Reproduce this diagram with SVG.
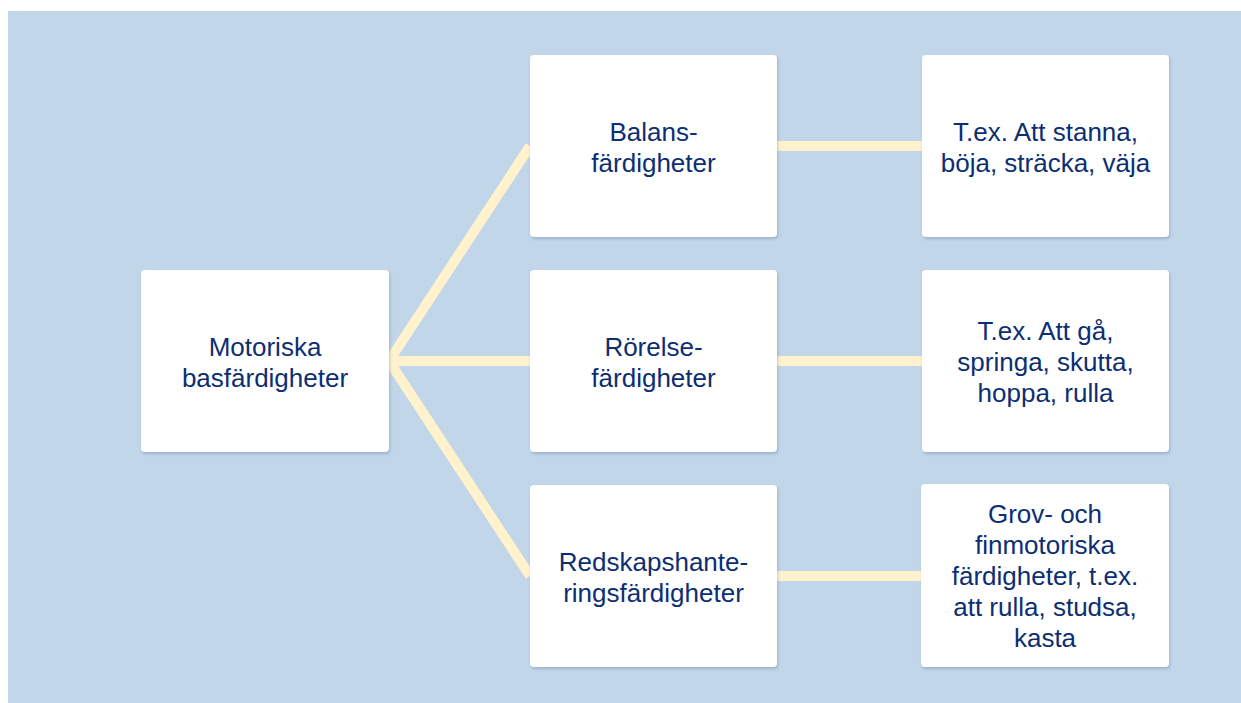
<svg xmlns="http://www.w3.org/2000/svg" width="1241" height="703" viewBox="0 0 1241 703">
<defs>
<filter id="sh" x="-5%" y="-5%" width="115%" height="115%">
<feDropShadow dx="1" dy="2" stdDeviation="1.5" flood-color="#5a6f88" flood-opacity="0.35"/>
</filter>
<style>
.box{fill:#ffffff;filter:url(#sh)}
.t{font-family:"Liberation Sans",Arial,sans-serif;font-size:26px;fill:#0c2e72;text-anchor:middle}
.c{stroke:#fff2cc;stroke-width:10;fill:none;stroke-linecap:butt;stroke-linejoin:round}
</style>
</defs>
<rect x="0" y="0" width="1241" height="703" fill="#ffffff"/>
<rect x="8" y="11" width="1233" height="692" fill="#c2d6ea"/>
<g id="connectors">
<polyline class="c" points="530,146 389,361 530,576"/>
<line class="c" x1="389" y1="361" x2="530" y2="361"/>
<line class="c" x1="777" y1="146" x2="922" y2="146"/>
<line class="c" x1="777" y1="361" x2="922" y2="361"/>
<line class="c" x1="777" y1="576" x2="922" y2="576"/>
</g>
<g id="n-root">
<rect class="box" x="141" y="270" width="248" height="182" rx="4"/>
<text class="t" x="265" y="355.5">Motoriska</text>
<text class="t" x="265" y="386.5">basfärdigheter</text>
</g>
<g id="n-balans">
<rect class="box" x="530" y="55" width="247" height="182" rx="4"/>
<text class="t" x="653.5" y="140.5">Balans-</text>
<text class="t" x="653.5" y="171.5">färdigheter</text>
</g>
<g id="n-rorelse">
<rect class="box" x="530" y="270" width="247" height="182" rx="4"/>
<text class="t" x="653.5" y="355.5">Rörelse-</text>
<text class="t" x="653.5" y="386.5">färdigheter</text>
</g>
<g id="n-redskap">
<rect class="box" x="530" y="485" width="247" height="182" rx="4"/>
<text class="t" x="653.5" y="570.5">Redskapshante-</text>
<text class="t" x="653.5" y="601.5">ringsfärdigheter</text>
</g>
<g id="n-ex1">
<rect class="box" x="922" y="55" width="247" height="182" rx="4"/>
<text class="t" x="1045.5" y="140.5">T.ex. Att stanna,</text>
<text class="t" x="1045.5" y="171.5">böja, sträcka, väja</text>
</g>
<g id="n-ex2">
<rect class="box" x="922" y="270" width="247" height="182" rx="4"/>
<text class="t" x="1045.5" y="340">T.ex. Att gå,</text>
<text class="t" x="1045.5" y="371">springa, skutta,</text>
<text class="t" x="1045.5" y="402">hoppa, rulla</text>
</g>
<g id="n-ex3">
<rect class="box" x="921" y="484" width="248" height="183" rx="4"/>
<text class="t" x="1045" y="523">Grov- och</text>
<text class="t" x="1045" y="554">finmotoriska</text>
<text class="t" x="1045" y="585">färdigheter, t.ex.</text>
<text class="t" x="1045" y="616">att rulla, studsa,</text>
<text class="t" x="1045" y="647">kasta</text>
</g>
</svg>
